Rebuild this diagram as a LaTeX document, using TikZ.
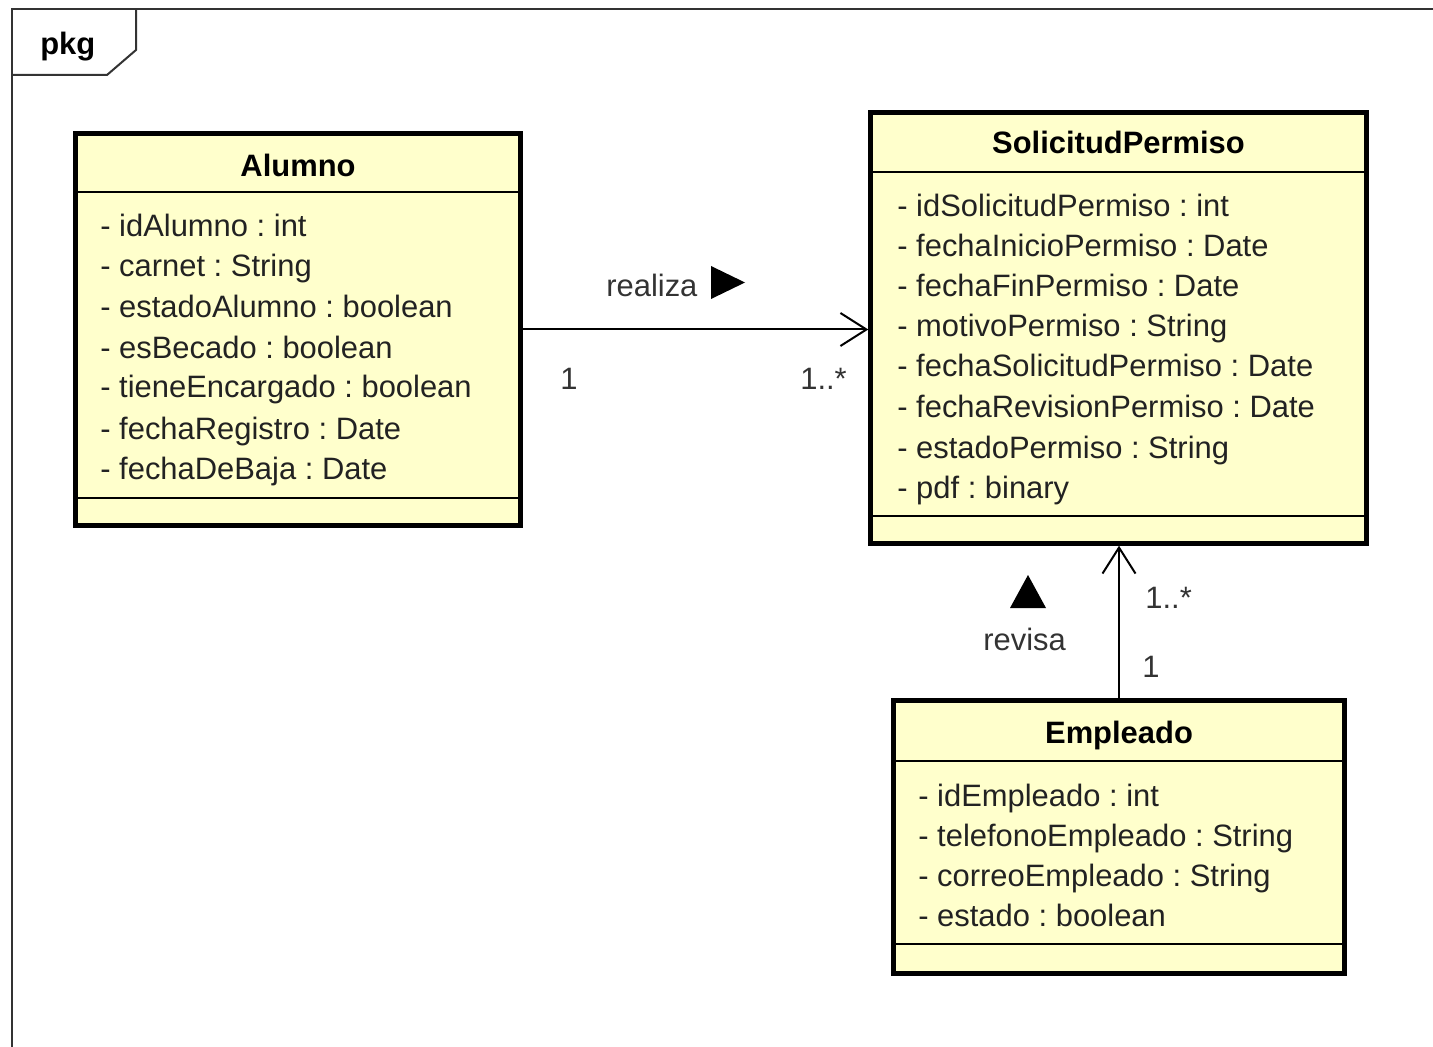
\documentclass[tikz,border=0pt]{standalone}
\usepackage{fontspec}
\setmainfont{Liberation Sans}
\frenchspacing
\definecolor{umlyellow}{RGB}{255,255,204}
\definecolor{umlframe}{RGB}{51,51,51}
\definecolor{umltext}{RGB}{34,34,34}
\usetikzlibrary{arrows.meta,positioning}

\begin{document}
\begin{tikzpicture}[
    x=0.02cm, y=-0.02cm,
    classbox/.style={rectangle, draw=black, fill=umlyellow, line width=0.09cm, inner sep=0pt},
    sepline/.style={line width=0.04cm},
    titletext/.style={font=\fontsize{17.6}{20}\selectfont\bfseries, anchor=base, inner sep=0pt},
    attrtext/.style={font=\fontsize{17.6}{20}\selectfont, anchor=base west, inner sep=0pt, text=umltext},
    multtext/.style={font=\fontsize{17.6}{20}\selectfont, anchor=base west, inner sep=0pt, text=umlframe},
    assoc/.style={line width=0.04cm, -{Straight Barb[length=0.52cm, width=0.66cm]}}
  ]
    \useasboundingbox (0,0) rectangle (1433,1047);

    % Package frame
    \draw[umlframe, line width=0.04cm] (12,1047) -- (12,9) -- (1433,9);
    \draw[umlframe, line width=0.04cm] (136,9) -- (136,50) -- (107,75) -- (12,75);
    \node[titletext, anchor=base west] (pkg) at (40,55) {pkg};

    % Class boxes
    \node[classbox, minimum width=8.9cm, minimum height=7.84cm] (alumno) at (298,329.5) {};
    \node[classbox, minimum width=9.92cm, minimum height=8.62cm] (solicitud) at (1118.5,328) {};
    \node[classbox, minimum width=9.02cm, minimum height=5.47cm] (empleado) at (1119,837) {};

    % Compartment lines
    \draw[sepline] (alumno.west |- 0,192) -- (alumno.east |- 0,192);
    \draw[sepline] (alumno.west |- 0,498) -- (alumno.east |- 0,498);
    \draw[sepline] (solicitud.west |- 0,172) -- (solicitud.east |- 0,172);
    \draw[sepline] (solicitud.west |- 0,516) -- (solicitud.east |- 0,516);
    \draw[sepline] (empleado.west |- 0,761) -- (empleado.east |- 0,761);
    \draw[sepline] (empleado.west |- 0,944) -- (empleado.east |- 0,944);

    % Class names
    \node[titletext] (alumnoName) at (298,177) {Alumno};
    \node[titletext] (solicitudName) at (1118.5,154) {SolicitudPermiso};
    \node[titletext] (empleadoName) at (1119,743) {Empleado};

    % Attributes Alumno
    \node[attrtext] (alAttrA) at (100,237) {- idAlumno : int};
    \node[attrtext] (alAttrB) at (100,277) {- carnet : String};
    \node[attrtext] (alAttrC) at (100,318) {- estadoAlumno : boolean};
    \node[attrtext] (alAttrD) at (100,358) {- esBecado : boolean};
    \node[attrtext] (alAttrE) at (100,398) {- tieneEncargado : boolean};
    \node[attrtext] (alAttrF) at (100,439) {- fechaRegistro : Date};
    \node[attrtext] (alAttrG) at (100,479) {- fechaDeBaja : Date};

    % Attributes SolicitudPermiso
    \node[attrtext] (spAttrA) at (897,217) {- idSolicitudPermiso : int};
    \node[attrtext] (spAttrB) at (897,257) {- fechaInicioPermiso : Date};
    \node[attrtext] (spAttrC) at (897,297) {- fechaFinPermiso : Date};
    \node[attrtext] (spAttrD) at (897,337) {- motivoPermiso : String};
    \node[attrtext] (spAttrE) at (897,377) {- fechaSolicitudPermiso : Date};
    \node[attrtext] (spAttrF) at (897,418) {- fechaRevisionPermiso : Date};
    \node[attrtext] (spAttrG) at (897,458) {- estadoPermiso : String};
    \node[attrtext] (spAttrH) at (897,498) {- pdf : binary};

    % Attributes Empleado
    \node[attrtext] (emAttrA) at (918,806) {- idEmpleado : int};
    \node[attrtext] (emAttrB) at (918,846) {- telefonoEmpleado : String};
    \node[attrtext] (emAttrC) at (918,886) {- correoEmpleado : String};
    \node[attrtext] (emAttrD) at (918,926) {- estado : boolean};

    % Association realiza
    \draw[assoc] (alumno.east) -- (alumno.east -| solicitud.west);
    \node[multtext] (realizaLbl) at (606,297) {realiza};
    \fill (711,266) -- (745,282.5) -- (711,299) -- cycle;
    \node[multtext] (realizaSrc) at (560,390) {1};
    \node[multtext] (realizaDst) at (800,390) {1..*};

    % Association revisa
    \draw[assoc] (empleado.north) -- (empleado.north |- solicitud.south);
    \node[multtext] (revisaLbl) at (983,650) {revisa};
    \fill (1028,575) -- (1046,608) -- (1010,608) -- cycle;
    \node[multtext] (revisaDst) at (1145,608) {1..*};
    \node[multtext] (revisaSrc) at (1142,677) {1};
  \end{tikzpicture}
\end{document}
